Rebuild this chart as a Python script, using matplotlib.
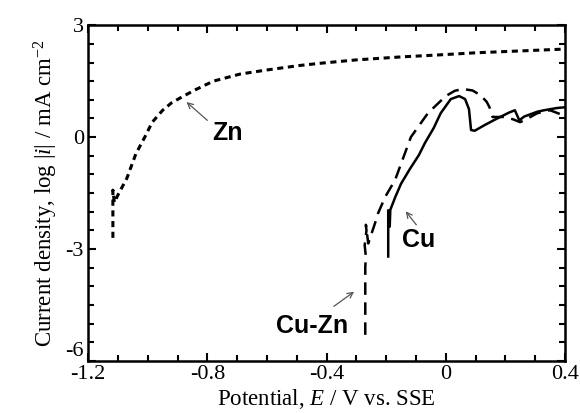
import matplotlib.pyplot as plt
from matplotlib.ticker import MultipleLocator, FuncFormatter
from matplotlib.transforms import ScaledTranslation

# data (potential in V vs SSE, log current density)
zn_E = [-1.117, -1.117, -1.112, -1.10, -1.07, -1.04, -1.01, -0.985, -0.95,
        -0.92, -0.88, -0.84, -0.78, -0.69, -0.60, -0.49, -0.42, -0.30,
        -0.15, -0.03, 0.10, 0.25, 0.40]
zn_logi = [-2.7, -1.42, -1.75, -1.55, -1.1, -0.45, 0.0, 0.4, 0.72,
           0.92, 1.1, 1.27, 1.5, 1.69, 1.8, 1.92, 1.98, 2.07,
           2.15, 2.2, 2.26, 2.31, 2.36]

cu_E = [-0.193, -0.193, -0.188, -0.186, -0.17, -0.15, -0.12, -0.09, -0.07,
        -0.04, -0.017, 0.017, 0.045, 0.065, 0.078, 0.085, 0.097, 0.13,
        0.163, 0.213, 0.232, 0.247, 0.263, 0.307, 0.33, 0.373, 0.40]
cu_logi = [-3.2, -1.96, -2.4, -1.95, -1.62, -1.25, -0.85, -0.48, -0.16,
           0.25, 0.64, 1.02, 1.1, 1.02, 0.75, 0.19, 0.17, 0.32,
           0.46, 0.66, 0.72, 0.45, 0.55, 0.68, 0.72, 0.78, 0.8]

cuzn_E = [-0.27, -0.27, -0.268, -0.272, -0.266, -0.268, -0.26, -0.237,
          -0.227, -0.203, -0.17, -0.117, -0.06, 0.0, 0.03, 0.057, 0.09,
          0.117, 0.137, 0.147, 0.157, 0.197, 0.225, 0.25, 0.275, 0.307,
          0.35, 0.39, 0.40]
cuzn_logi = [-5.3, -3.48, -3.2, -2.9, -2.5, -2.35, -2.85, -2.3,
             -2.04, -1.6, -1.15, 0.0, 0.64, 1.1, 1.24, 1.29, 1.25,
             1.12, 0.95, 0.8, 0.54, 0.54, 0.48, 0.4, 0.5, 0.64,
             0.72, 0.6, 0.55]

labels = ['Zn', 'Cu', 'Cu-Zn']
label_pos = [(-0.733, 0.1), (-0.09, -2.76), (-0.45, -5.06)]
arrow_tail = [(-0.793, 0.4), (-0.093, -2.41), (-0.383, -4.58)]
arrow_head = [(-0.877, 0.99), (-0.14, -1.93), (-0.30, -4.1)]

plt.rcParams['font.family'] = ['Liberation Serif', 'DejaVu Serif']
plt.rcParams['mathtext.fontset'] = 'custom'
plt.rcParams['mathtext.it'] = 'Liberation Serif:italic'
plt.rcParams['mathtext.rm'] = 'Liberation Serif'

fig = plt.figure(figsize=(5.8, 4.13), dpi=100)
ax = fig.add_axes([0.152, 0.126, 0.822, 0.813])

ax.plot(zn_E, zn_logi, color='black', lw=2.2, dashes=(2, 1.5))
ax.plot(cu_E, cu_logi, color='black', lw=1.8)
ax.plot(cuzn_E, cuzn_logi, color='black', lw=1.8, dashes=(5, 3))

for name, pos, tail, head in zip(labels, label_pos, arrow_tail, arrow_head):
    ax.text(pos[0], pos[1], name, family='Liberation Sans', fontweight='bold',
            fontsize=18, ha='center', va='center')
    ax.annotate('', xy=head, xytext=tail,
                arrowprops=dict(arrowstyle='->', color='#555555', lw=0.9))

ax.set_xlim(-1.2, 0.4)
ax.set_ylim(-6, 3)
ax.xaxis.set_major_locator(MultipleLocator(0.4))
ax.xaxis.set_minor_locator(MultipleLocator(0.1))
ax.yaxis.set_major_locator(MultipleLocator(3))
ax.yaxis.set_minor_locator(MultipleLocator(0.5))
ax.xaxis.set_major_formatter(FuncFormatter(lambda v, p: '%g' % round(v, 1)))
ax.yaxis.set_major_formatter(FuncFormatter(lambda v, p: '%d' % round(v)))
ax.tick_params(which='both', direction='in', top=True, right=True, width=1.5,
               labelsize=16, pad=3)
ax.tick_params(which='major', length=6)
ax.tick_params(which='minor', length=4)
for sp in ax.spines.values():
    sp.set_linewidth(1.8)

ax.set_xlabel('Potential, $E$ / V vs. SSE', fontsize=16.5, labelpad=2)
ax.set_ylabel('Current density, log |$i$| / mA cm$^{-2}$', fontsize=16.5, labelpad=4)

# the bottom y label sits a little above its tick, as in the original
fig.canvas.draw()
for lbl in ax.get_yticklabels():
    if lbl.get_text() == '-6':
        lbl.set_transform(lbl.get_transform() + ScaledTranslation(0, 0.12, fig.dpi_scale_trans))

fig.savefig('out.png', dpi=100)
